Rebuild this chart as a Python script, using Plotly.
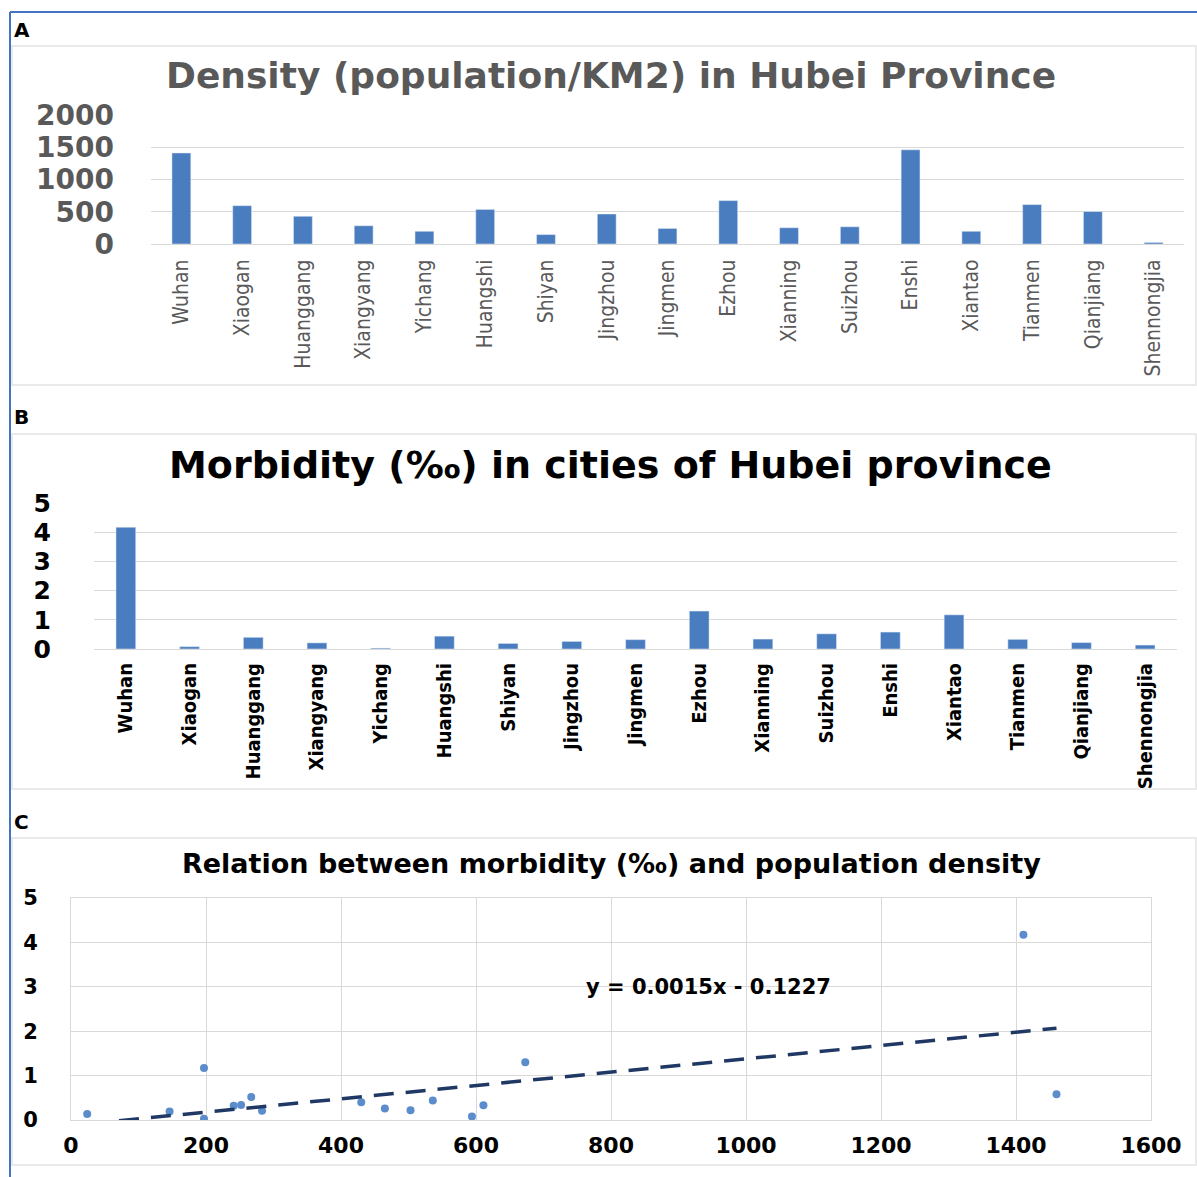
import plotly.graph_objects as go

# ---------------- data ----------------
cities = ["Wuhan", "Xiaogan", "Huanggang", "Xiangyang", "Yichang", "Huangshi",
          "Shiyan", "Jingzhou", "Jingmen", "Ezhou", "Xianning", "Suizhou",
          "Enshi", "Xiantao", "Tianmen", "Qianjiang", "Shennongjia"]
density = [1411, 594, 430, 283, 197, 536, 146, 465, 241, 673, 252, 267,
           1460, 197, 611, 503, 24]
morbidity = [4.17, 0.08, 0.40, 0.21, 0.03, 0.44, 0.19, 0.26, 0.32, 1.30,
             0.34, 0.52, 0.58, 1.17, 0.33, 0.22, 0.135]
trend_slope = 0.0015
trend_intercept = -0.1227
density_ticks = [0, 500, 1000, 1500, 2000]
morbidity_ticks = [0, 1, 2, 3, 4, 5]
scatter_x_ticks = [0, 200, 400, 600, 800, 1000, 1200, 1400, 1600]

title_a = "Density (population/KM2) in Hubei Province"
title_b = "Morbidity (\u2030) in cities of Hubei province"
title_c = "Relation between morbidity (\u2030) and population density"
equation = "y = 0.0015x - 0.1227"

# ---------------- styling ----------------
W, H = 1197, 1177
BAR = "#4A7DC0"
DOT = "#5B8CCB"
GRID = "#D9D9D9"
BORDER = "#4472C4"
WIDE = "DejaVu Sans, Verdana, sans-serif"
NARROW = "Liberation Sans Narrow, DejaVu Sans Condensed, Roboto Condensed, sans-serif"


def px_x(p):
    return p / W


def px_y(p):
    return 1 - p / H


fig = go.Figure()

fig.add_trace(go.Bar(x=cities, y=density, marker_color=BAR,
                     xaxis="x", yaxis="y", showlegend=False))
fig.add_trace(go.Bar(x=cities, y=morbidity, marker_color=BAR,
                     xaxis="x2", yaxis="y2", showlegend=False))
fig.add_trace(go.Scatter(x=density, y=morbidity, mode="markers",
                         marker=dict(color=DOT, size=8),
                         xaxis="x3", yaxis="y3", showlegend=False))
tx = [min(density), max(density)]
ty = [trend_slope * v + trend_intercept for v in tx]
fig.add_trace(go.Scatter(x=tx, y=ty, mode="lines",
                         line=dict(color="#1F3864", width=3.5, dash="20px,12px"),
                         xaxis="x3", yaxis="y3", showlegend=False))

cat_range = [-0.5, len(cities) - 0.5]

fig.update_layout(
    width=W, height=H,
    margin=dict(l=0, r=0, t=0, b=0, pad=0, autoexpand=False),
    paper_bgcolor="white", plot_bgcolor="white",
    bargap=0.69,
    xaxis=dict(domain=[px_x(151), px_x(1184)], anchor="y", range=cat_range,
               tickangle=-90, showgrid=False, showline=True, linecolor=GRID,
               ticks="", ticklabelstandoff=6,
               tickfont=dict(family=NARROW, size=21, color="#595959")),
    yaxis=dict(domain=[px_y(244), px_y(115)], anchor="x", range=[0, 2000],
               tickvals=density_ticks, showgrid=True, gridcolor=GRID,
               zeroline=False, ticks="", ticklabelstandoff=36,
               tickfont=dict(family=WIDE, size=28, color="#595959", weight="bold")),
    xaxis2=dict(domain=[px_x(94), px_x(1177)], anchor="y2", range=cat_range,
                tickangle=-90, showgrid=False, showline=True, linecolor=GRID,
                ticks="", ticklabelstandoff=5,
                tickfont=dict(family=NARROW, size=20, color="#000000", weight="bold")),
    yaxis2=dict(domain=[px_y(649), px_y(503)], anchor="x2", range=[0, 5],
                tickvals=morbidity_ticks, showgrid=True, gridcolor=GRID,
                zeroline=False, ticks="", ticklabelstandoff=42,
                tickfont=dict(family=WIDE, size=25, color="#000000", weight="bold")),
    xaxis3=dict(domain=[px_x(71), px_x(1151)], anchor="y3", range=[0, 1600],
                tickvals=scatter_x_ticks, showgrid=True, gridcolor=GRID,
                showline=True, linecolor=GRID, mirror=True, zeroline=False,
                ticks="", ticklabelstandoff=6,
                tickfont=dict(family=WIDE, size=22, color="#000000", weight="bold")),
    yaxis3=dict(domain=[px_y(1120), px_y(898)], anchor="x3", range=[0, 5],
                tickvals=morbidity_ticks, showgrid=True, gridcolor=GRID,
                showline=True, linecolor=GRID, mirror=True, zeroline=False,
                ticks="", ticklabelstandoff=28,
                tickfont=dict(family=WIDE, size=21, color="#000000", weight="bold")),
)

shapes = [
    # outer blue frame (top and left)
    dict(type="line", xref="paper", yref="paper", x0=px_x(10), x1=1,
         y0=px_y(12), y1=px_y(12), line=dict(color=BORDER, width=2)),
    dict(type="line", xref="paper", yref="paper", x0=px_x(10), x1=px_x(10),
         y0=px_y(12), y1=0, line=dict(color=BORDER, width=2)),
]
for top, bottom in [(46, 385), (434, 789), (838, 1165)]:
    shapes.append(dict(type="rect", xref="paper", yref="paper",
                       x0=px_x(12), x1=px_x(1196), y0=px_y(bottom), y1=px_y(top),
                       line=dict(color="#E3E3E3", width=1.5), layer="below"))
fig.update_layout(shapes=shapes)

annotations = []
for letter, ypos in [("A", 30), ("B", 417), ("C", 822)]:
    annotations.append(dict(text=letter, xref="paper", yref="paper",
                            x=px_x(12), y=px_y(ypos), xanchor="left", yanchor="middle",
                            showarrow=False,
                            font=dict(family=WIDE, size=20, color="#000000", weight="bold")))
annotations.append(dict(text=title_a, xref="paper", yref="paper", x=px_x(611), y=px_y(76),
                        xanchor="center", yanchor="middle", showarrow=False,
                        font=dict(family=WIDE, size=36, color="#595959", weight="bold")))
annotations.append(dict(text=title_b, xref="paper", yref="paper", x=px_x(610), y=px_y(465),
                        xanchor="center", yanchor="middle", showarrow=False,
                        font=dict(family=WIDE, size=38, color="#000000", weight="bold")))
annotations.append(dict(text=title_c, xref="paper", yref="paper", x=px_x(611), y=px_y(863),
                        xanchor="center", yanchor="middle", showarrow=False,
                        font=dict(family=WIDE, size=27, color="#000000", weight="bold")))
annotations.append(dict(text=equation, xref="x3", yref="y3", x=945, y=3.0,
                        xanchor="center", yanchor="middle", showarrow=False,
                        font=dict(family=WIDE, size=21, color="#000000", weight="bold")))
fig.update_layout(annotations=annotations)

fig.write_html(
    "out.html",
    config=dict(displayModeBar=False),
    post_script=("document.documentElement.style.margin='0';"
                 "document.body.style.margin='0';"
                 "document.documentElement.style.overflow='hidden';"
                 "document.body.style.overflow='hidden';"),
)
